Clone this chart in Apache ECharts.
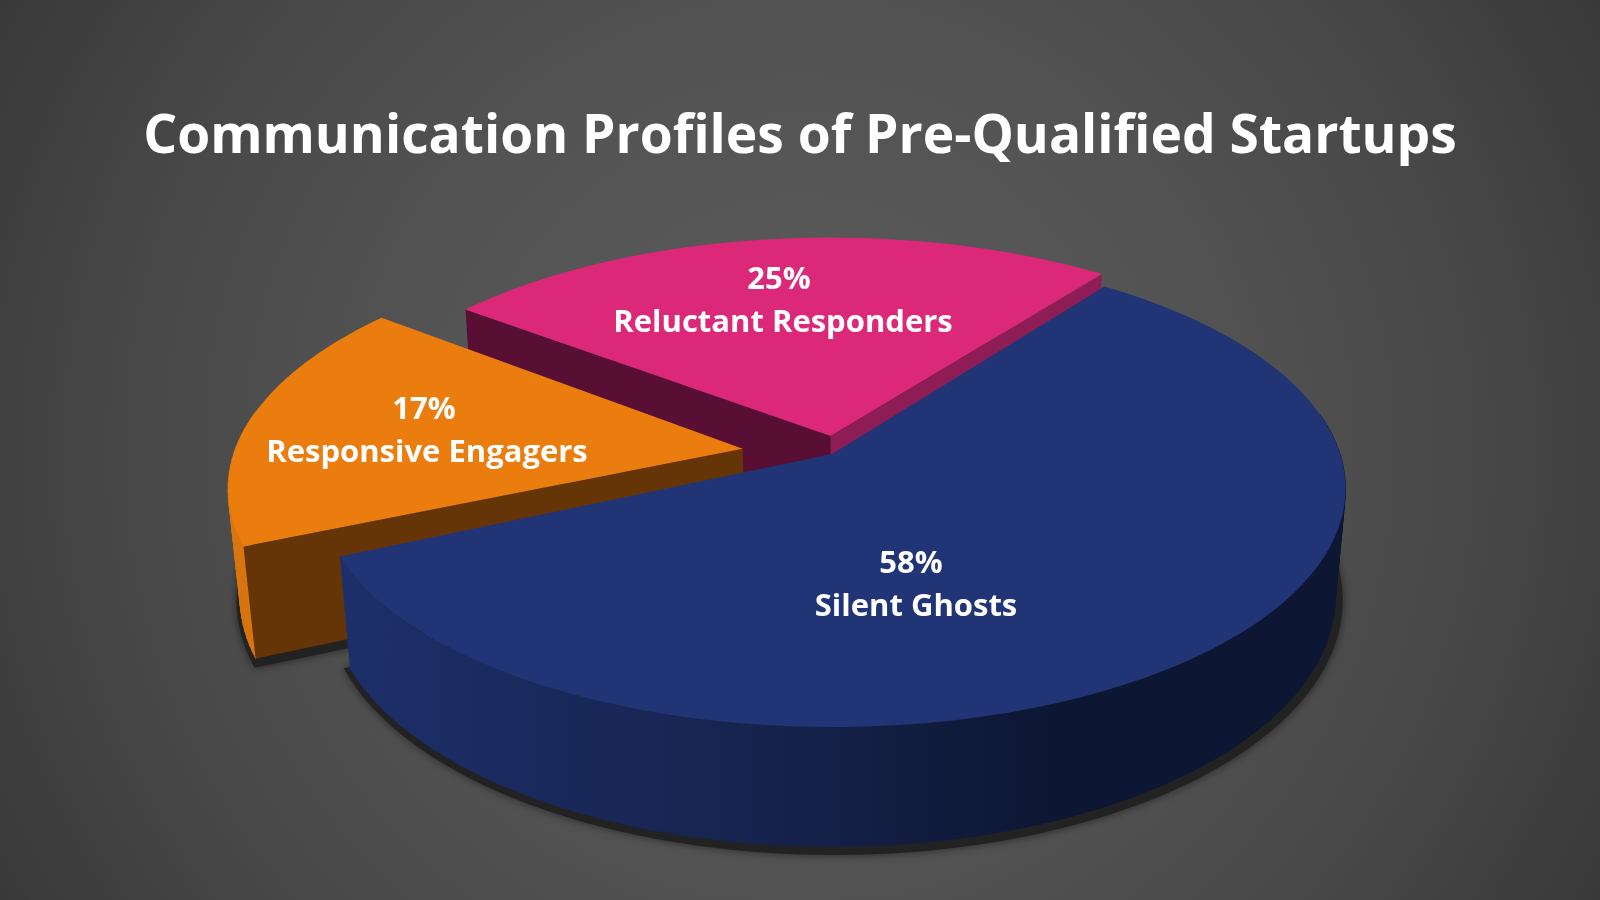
<!DOCTYPE html>
<html><head><meta charset="utf-8">
<style>html,body{margin:0;padding:0;background:#444}#c{width:1600px;height:900px}</style>
<script src="https://cdn.jsdelivr.net/npm/echarts@6/dist/echarts.min.js"></script>
</head><body><div id="c"></div>
<script>
const titleText = 'Communication Profiles of Pre-Qualified Startups';
// clockwise order as on the pie, from the navy slice
const categories = ['Silent Ghosts', 'Responsive Engagers', 'Reluctant Responders'];
const shares = [58, 17, 25];
// styling and projection (not data)
const startAngle = -53.2;
const drawOrder = [2, 1, 0];
const explode = [[0.004, 0], [-0.172, -0.023], [0.001, -0.078]];
const radius = [0.998, 1, 0.99];
const rotate = [0, 1, 0.5];
const topColors = ['#213576', '#eb7c0e', '#db2878'];
const wallColors = [
  {type:'linear',global:true,x:345,y:0,x2:1060,y2:0,colorStops:[{offset:0,color:'#1d2f6a'},{offset:0.55,color:'#16244f'},{offset:1,color:'#0d1632'}]},
  '#d9760f', '#8f1d55'];
const faceColors = [[null, null], ['#663507', null], ['#580f33', '#8f1d55']];
const labelPos = [[[911, 564], [916, 607]], [[424, 410], [427, 453]], [[779, 280], [783, 323]]];
const P = {ax:830, ay:454, A:509, B:234, C:110, u:0.145, m:0.02};

function proj(x, y, d) {
  const w = 1 - P.u * y + P.m * d;
  return [P.ax + P.A * x / w, P.ay + (P.B * y + P.C * d) / w];
}
const total = shares.reduce((a, b) => a + b, 0);
const ranges = [];
shares.reduce((acc, v) => { const e = acc + v / total * 360; ranges.push([acc, e]); return e; }, startAngle);

function angles(i) {
  const [a, b] = ranges[i], n = Math.ceil((b - a) / 1.5), out = [];
  for (let k = 0; k <= n; k++) out.push((a + rotate[i] + (b - a) * k / n) * Math.PI / 180);
  return out;
}
function rim(i, d) {
  const [ox, oy] = explode[i], r = radius[i];
  return angles(i).map(t => proj(r * Math.cos(t) + ox, r * Math.sin(t) + oy, d));
}
function apex(i, d) { return proj(explode[i][0], explode[i][1], d); }
function poly(points, fill, extra) {
  return {type:'polygon', shape:{points}, style:Object.assign({fill}, extra || {}), silent:true};
}
function renderSlice(params, api) {
  const i = drawOrder[params.dataIndex];
  const kids = [];
  const topRim = rim(i, 0), botRim = rim(i, 1), ts = angles(i);
  // outer wall, swept quad by quad; the far side is hidden by the top face
  for (let k = 0; k < topRim.length - 1; k++) {
    if (Math.sin(ts[k]) < -0.15 && Math.sin(ts[k+1]) < -0.15) continue;
    kids.push(poly([topRim[k], topRim[k+1], botRim[k+1], botRim[k]], wallColors[i], {stroke:wallColors[i], lineWidth:0.7}));
  }
  // cut faces
  const [f0, f1] = faceColors[i];
  if (f0) kids.push(poly([apex(i,0), topRim[0], botRim[0], apex(i,1)], f0));
  if (f1) kids.push(poly([apex(i,0), topRim[topRim.length-1], botRim[botRim.length-1], apex(i,1)], f1));
  // top
  kids.push(poly([apex(i,0)].concat(topRim), topColors[i]));
  return {type:'group', children:kids};
}
function renderShadow(params, api) {
  const i = drawOrder[params.dataIndex];
  const pts = [apex(i,1)].concat(rim(i,1)).map(p => [p[0] + 2, p[1] + 3]);
  return poly(pts, '#222222', {stroke:'#222222', lineWidth:11, shadowBlur:10, shadowColor:'rgba(0,0,0,0.45)'});
}
function renderLabel(params, api) {
  const i = drawOrder[params.dataIndex];
  const style = (text, pos) => ({type:'text', silent:true, style:{text, x:pos[0], y:pos[1], fill:'#ffffff',
    align:'center', verticalAlign:'middle', fontFamily:'"Open Sans"', fontWeight:700, fontSize:31}});
  return {type:'group', children:[
    style(api.value(0) + '%', labelPos[i][0]),
    style(categories[i], labelPos[i][1])
  ]};
}
const ordered = drawOrder.map(i => shares[i]);
const chart = echarts.init(document.getElementById('c'), null, {renderer:'canvas'});
chart.setOption({
  animation:false,
  backgroundColor:{type:'radial',x:0.5,y:0.5,r:1.02,colorStops:[
    {offset:0,color:'#5c5c5c'},{offset:0.45,color:'#535353'},{offset:0.75,color:'#474747'},{offset:1,color:'#393939'}]},
  title:{text:titleText,left:'center',top:106,textStyle:{color:'#fff',fontFamily:'"Open Sans"',fontWeight:700,fontSize:53.3}},
  series:[
    {type:'custom',coordinateSystem:'none',z:1,data:ordered,renderItem:renderShadow},
    {type:'custom',coordinateSystem:'none',z:2,data:ordered,renderItem:renderSlice},
    {type:'custom',coordinateSystem:'none',z:3,data:ordered,renderItem:renderLabel}
  ]
});
</script></body></html>
